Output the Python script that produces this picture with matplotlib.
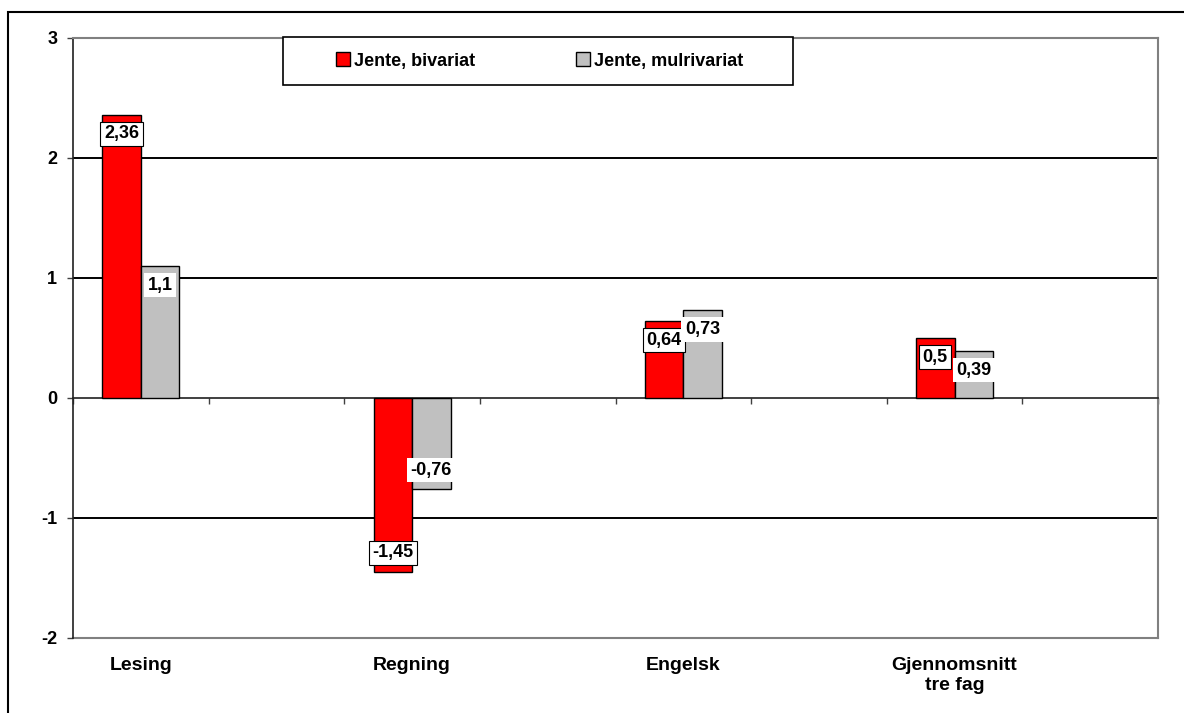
import matplotlib
matplotlib.use('Agg')
import matplotlib.pyplot as plt
from matplotlib.patches import Rectangle
import numpy as np

# ---- data ----
categories = ['Lesing', 'Regning', 'Engelsk', 'Gjennomsnitt\ntre fag']
series_names = ['Jente, bivariat', 'Jente, mulrivariat']
bivariat = [2.36, -1.45, 0.64, 0.5]
multivariat = [1.1, -0.76, 0.73, 0.39]
y_ticks = [-2, -1, 0, 1, 2, 3]

colors = ['#FF0000', '#C0C0C0']

plt.rcParams['font.family'] = ['Liberation Sans', 'DejaVu Sans']
plt.rcParams['font.weight'] = 'bold'
plt.rcParams['axes.unicode_minus'] = False
FS = 13

W, H = 1184, 713
fig = plt.figure(figsize=(W / 100, H / 100), dpi=100)
fig.patch.set_facecolor('white')
ax = fig.add_axes([73 / W, (H - 638) / H, (1158 - 73) / W, (638 - 38) / H])

n_slots = 2 * len(categories)
centers = np.arange(len(categories)) * 2 + 0.5
bw = 0.284

series = [bivariat, multivariat]
offsets = [-bw / 2, bw / 2]
for vals, off, col, name in zip(series, offsets, colors, series_names):
    bars = ax.bar(centers + off, vals, bw, color=col, edgecolor='black',
                  linewidth=1.0, label=name, zorder=3)
    for rect, v in zip(bars, vals):
        xc = rect.get_x() + rect.get_width() / 2
        dy = -13.7 if v >= 0 else 13.7
        box = dict(boxstyle='square,pad=0.2', fc='white',
                   ec='black' if col == colors[0] else 'none', lw=0.8)
        ax.annotate(f"{v:g}".replace('.', ','), (xc, v), xytext=(0, dy),
                    textcoords='offset points', ha='center', va='center',
                    fontsize=FS, fontweight='bold', bbox=box, zorder=5)

ax.set_xlim(0, n_slots)
ax.set_ylim(y_ticks[0], y_ticks[-1])
ax.set_yticks(y_ticks)
ax.set_yticklabels([str(t) for t in y_ticks], fontsize=FS, fontweight='bold')
ax.tick_params(axis='y', direction='out', length=4.3, width=1, color='#404040', pad=7)

# x axis ticks on the zero line (slot boundaries)
ax.set_xticks(np.arange(0, n_slots + 1))
ax.set_xticklabels([])
ax.spines['bottom'].set_position(('data', 0))
ax.spines['bottom'].set_color('#202020')
ax.spines['bottom'].set_linewidth(1.2)
ax.tick_params(axis='x', direction='out', length=4.3, width=1, color='#404040')

ax.spines['left'].set_color('#202020')
ax.spines['left'].set_linewidth(1.2)
for s in ['top', 'right']:
    ax.spines[s].set_color('#808080')
    ax.spines[s].set_linewidth(1.5)

# gridlines
ax.set_axisbelow(True)
ax.yaxis.grid(True, color='black', linewidth=1.4)
ax.xaxis.grid(False)
for line, t in zip(ax.get_ygridlines(), ax.get_yticks()):
    if t in (y_ticks[0], y_ticks[-1], 0):
        line.set_visible(False)

# category labels at the bottom of the plot area
sec = ax.secondary_xaxis('bottom')
sec.set_xticks(centers)
sec.set_xticklabels(categories, fontsize=14, fontweight='bold', linespacing=1.2)
sec.tick_params(length=0, pad=14)
sec.spines['bottom'].set_color('#808080')
sec.spines['bottom'].set_linewidth(1.5)

# legend
leg = fig.legend(loc='center', bbox_to_anchor=(539.5 / W, (H - 61) / H),
                 ncol=2, frameon=False, prop={'size': FS, 'weight': 'bold'},
                 handlelength=0.78, handleheight=0.78, handletextpad=0.2,
                 columnspacing=5.6)
for h in leg.legend_handles:
    h.set_edgecolor('black')
    h.set_linewidth(1.0)
fig.add_artist(Rectangle((283 / W, (H - 85) / H), (793 - 283) / W, 48 / H,
                         transform=fig.transFigure, fill=True, fc='white',
                         ec='black', lw=1.2, zorder=0.5))
leg.set_zorder(2)

# outer chart frame
fig.add_artist(Rectangle((8 / W, -0.5), 2, (H - 12) / H + 0.5,
                         transform=fig.transFigure, fill=False,
                         ec='black', lw=1.5))

fig.savefig('out.png', dpi=100)
